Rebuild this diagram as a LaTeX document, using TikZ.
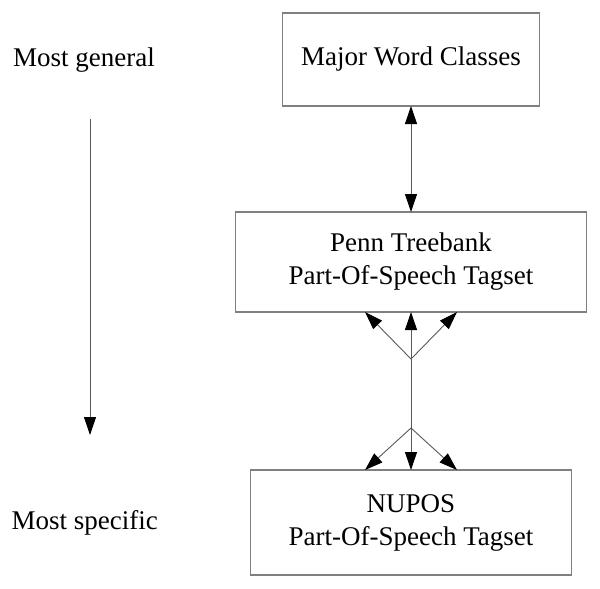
\documentclass[tikz,border=0pt]{standalone}
\usepackage{fontspec}
\setmainfont{Liberation Serif}
\usetikzlibrary{arrows.meta,calc}
\begin{document}
\begin{tikzpicture}[x=1pt,y=-1pt,
  box/.style={draw=black!50, line width=1.2pt, rectangle, inner sep=0pt, outer sep=0pt, align=center, font=\fontsize{27}{33}\selectfont},
  conn/.style={draw=black!65, line width=0.9pt},
  tip/.style={-{Triangle[length=18pt,width=12pt,color=black]}},
  dtip/.style={{Triangle[length=18pt,width=12pt,color=black]}-{Triangle[length=18pt,width=12pt,color=black]}},
  lbl/.style={anchor=base west, inner sep=0pt, font=\fontsize{27}{33}\selectfont}]
\useasboundingbox (0,0) rectangle (600,589);

\node[box, minimum width=257pt, minimum height=93pt] (mwc) at (411,59.5) {Major Word Classes};
\node[box, minimum width=351pt, minimum height=100pt] (ptb) at (411,262) {Penn Treebank\\Part-Of-Speech Tagset};
\node[box, minimum width=321pt, minimum height=105pt] (nup) at (411,522.5) {NUPOS\\Part-Of-Speech Tagset};

\node[lbl] (gen) at (13,66.7) {Most general};
\node[lbl] (spec) at (11.5,529.3) {Most specific};

\coordinate (a0) at (90,119);
\coordinate (a1) at (90,435);
\draw[conn, tip] (a0) -- (a1);

\draw[conn, dtip] (mwc.south) -- (ptb.north);

\coordinate (j1) at (411,359);
\coordinate (j2) at (411,428);
\draw[conn] (j1) -- (j2);
\draw[conn, tip] (j1) -- (ptb.south);
\draw[conn, tip] (j1) -- ($(ptb.south)+(-46,0)$);
\draw[conn, tip] (j1) -- ($(ptb.south)+(46,0)$);
\draw[conn, tip] (j2) -- (nup.north);
\draw[conn, tip] (j2) -- ($(nup.north)+(-46,0)$);
\draw[conn, tip] (j2) -- ($(nup.north)+(46,0)$);
\end{tikzpicture}
\end{document}
